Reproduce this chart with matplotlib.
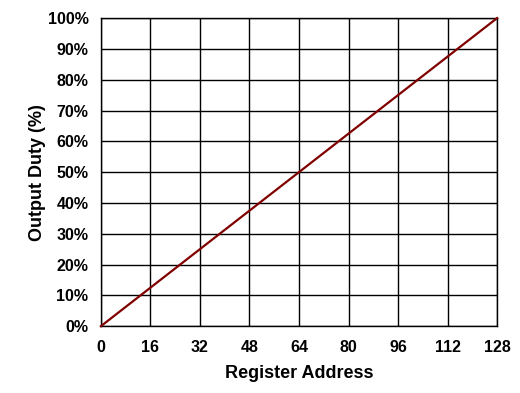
import matplotlib
matplotlib.use("Agg")
import matplotlib.pyplot as plt
from matplotlib.ticker import FuncFormatter

# Register address vs output duty
register_address = [0, 16, 32, 48, 64, 80, 96, 112, 128]
output_duty = [0, 12.5, 25, 37.5, 50, 62.5, 75, 87.5, 100]

x_ticks = [0, 16, 32, 48, 64, 80, 96, 112, 128]
y_ticks = [0, 10, 20, 30, 40, 50, 60, 70, 80, 90, 100]

plt.rcParams["font.family"] = ["Liberation Sans", "DejaVu Sans"]
plt.rcParams["font.weight"] = "bold"

fig = plt.figure(figsize=(5.2, 3.93), dpi=100)
fig.patch.set_facecolor("white")
ax = fig.add_axes([0.194, 0.170, 0.762, 0.784])

ax.plot(register_address, output_duty, color="#800000", linewidth=1.6,
        zorder=3, clip_on=False)

ax.set_xlim(0, 128)
ax.set_ylim(0, 100)
ax.set_xticks(x_ticks)
ax.set_yticks(y_ticks)
ax.yaxis.set_major_formatter(FuncFormatter(lambda v, _: f"{v:.0f}%"))
ax.grid(True, color="black", linewidth=1.0)
ax.set_axisbelow(True)
for s in ax.spines.values():
    s.set_color("black")
    s.set_linewidth(1.0)
ax.tick_params(axis="x", length=0, pad=10, labelsize=11.5)
ax.tick_params(axis="y", length=0, pad=9, labelsize=11.5)
for lab in ax.get_xticklabels() + ax.get_yticklabels():
    lab.set_fontweight("bold")

ax.set_xlabel("Register Address", fontsize=13, fontweight="bold", labelpad=7)
ax.set_ylabel("Output Duty (%)", fontsize=13, fontweight="bold", labelpad=1)

fig.savefig("out.png", dpi=100, facecolor="white")
